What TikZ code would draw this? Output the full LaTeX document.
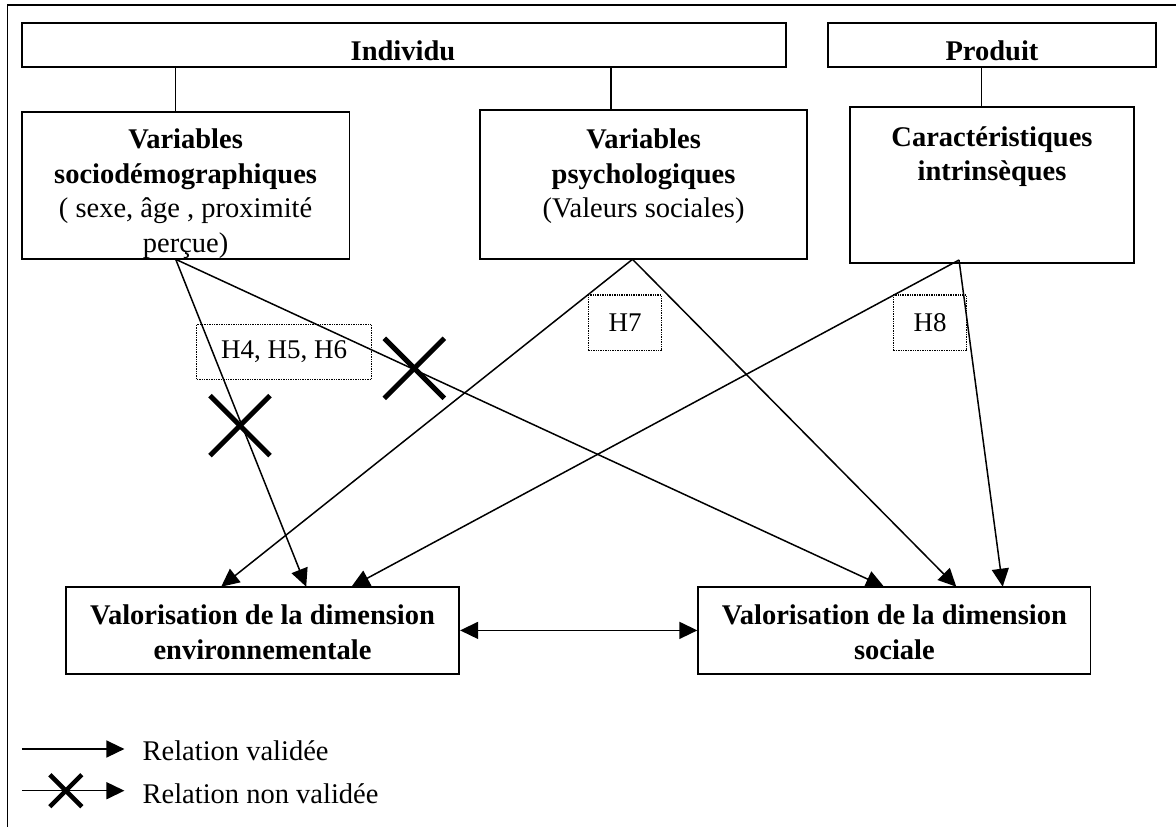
\documentclass[tikz,border=0pt]{standalone}
\usepackage{fontspec}
\setmainfont{Liberation Serif}
\usetikzlibrary{arrows.meta}
\begin{document}
\begin{tikzpicture}[x=1pt,y=-1pt,
  boxsty/.style={draw,line width=1.8pt,inner sep=0pt},
  hbox/.style={draw,densely dotted,line width=1.4pt,inner sep=0pt,font=\fontsize{27}{32}\selectfont},
  txt/.style={inner sep=0pt,align=center,font=\fontsize{28.5}{34.5}\selectfont},
  btxt/.style={txt,font=\fontsize{28.5}{34.5}\selectfont\bfseries},
  arr/.style={line width=1.5pt,-{Triangle[length=18pt,width=17pt]}},
  darr/.style={line width=1.5pt,{Triangle[length=18pt,width=17pt]}-{Triangle[length=18pt,width=17pt]}},
  conn/.style={line width=1.5pt},
  cross/.style={line width=5pt}
]
\useasboundingbox (0,0) rectangle (1176,827);
\fill[white] (0,0) rectangle (1176,827);
% outer frame
\coordinate (fa) at (7.7,830);
\coordinate (fb) at (7.7,5);
\coordinate (fc) at (1180,5);
\draw[line width=1.5pt] (fa) -- (fb) -- (fc);

% group boxes
\node[boxsty,minimum width=763.8pt,minimum height=44pt] (ind) at (403.7,44.7) {};
\node[boxsty,minimum width=327.7pt,minimum height=44pt] (prod) at (992,44.7) {};
\node[btxt,anchor=base] (indt) at (403,60) {Individu};
\node[btxt,anchor=base] (prodt) at (992,60) {Produit};

% variable boxes
\node[boxsty,minimum width=327.6pt,minimum height=147.6pt] (socio) at (185.6,185.5) {};
\node[boxsty,minimum width=327.4pt,minimum height=149pt] (psych) at (643.6,184.5) {};
\node[boxsty,minimum width=283.5pt,minimum height=156.3pt] (car) at (992,184.9) {};
\node[txt,anchor=base] (sociot) at (185.6,252.3) {\textbf{Variables}\\\textbf{sociodémographiques}\\( sexe, âge , proximité\\perçue)};
\node[txt,anchor=base] (psycht) at (643.6,217.5) {\textbf{Variables}\\\textbf{psychologiques}\\(Valeurs sociales)};
\node[txt,anchor=base] (cart) at (992,180.5) {\textbf{Caractéristiques}\\\textbf{intrinsèques}};

% group connectors
\coordinate (k1) at (175.7,0);
\coordinate (k2) at (610.8,0);
\coordinate (k3) at (981.4,0);
\draw[conn] (ind.south -| k1) -- (socio.north -| k1);
\draw[conn] (ind.south -| k2) -- (psych.north -| k2);
\draw[conn] (prod.south -| k3) -- (car.north -| k3);

% outcome boxes
\node[boxsty,minimum width=393.4pt,minimum height=87.3pt] (env) at (262.5,630.4) {};
\node[boxsty,minimum width=392.3pt,minimum height=87.3pt] (soc) at (894.4,630.4) {};
\node[btxt,anchor=base] (envt) at (262.5,659.3) {Valorisation de la dimension\\environnementale};
\node[btxt,anchor=base] (soct) at (894.4,659.3) {Valorisation de la dimension\\sociale};

% hypothesis labels
\node[hbox,minimum width=175pt,minimum height=55pt] (h456) at (284.2,351.8) {H4, H5, H6};
\node[hbox,minimum width=73.4pt,minimum height=55.7pt] (h7) at (625,322.9) {H7};
\node[hbox,minimum width=73.4pt,minimum height=55.7pt] (h8) at (930,322.9) {H8};

% arrow end points
\coordinate (sA) at (175.7,259.3);
\coordinate (pA) at (632.5,259.3);
\coordinate (cA) at (959,260);
\coordinate (e1) at (221.2,586.7);
\coordinate (e2) at (306.2,586.7);
\coordinate (e3) at (351.5,586.7);
\coordinate (s1) at (884,586.7);
\coordinate (s2) at (956.3,586.7);
\coordinate (s3) at (1002.7,586.7);

\draw[arr] (sA) -- (e2);
\draw[arr] (sA) -- (s1);
\draw[arr] (pA) -- (e1);
\draw[arr] (pA) -- (s2);
\draw[arr] (cA) -- (e3);
\draw[arr] (cA) -- (s3);
\draw[darr] (env.east) -- (soc.west);

% crosses
\draw[cross] (384.3,338.3) -- (444.3,398.3);
\draw[cross] (384.3,398.3) -- (444.3,338.3);
\draw[cross] (210,395.7) -- (270,455.7);
\draw[cross] (210,455.7) -- (270,395.7);

% legend
\coordinate (l1a) at (21.8,749);
\coordinate (l1b) at (124.4,749);
\coordinate (l2a) at (21.8,790.7);
\coordinate (l2b) at (124.4,790.7);
\draw[arr] (l1a) -- (l1b);
\draw[arr] (l2a) -- (l2b);
\draw[line width=4.5pt] (49.8,774.7) -- (81.8,806.7);
\draw[line width=4.5pt] (49.8,806.7) -- (81.8,774.7);
\node[txt,anchor=base west] (lt1) at (142.4,760) {Relation validée};
\node[txt,anchor=base west] (lt2) at (142.4,803.3) {Relation non validée};
\end{tikzpicture}
\end{document}
